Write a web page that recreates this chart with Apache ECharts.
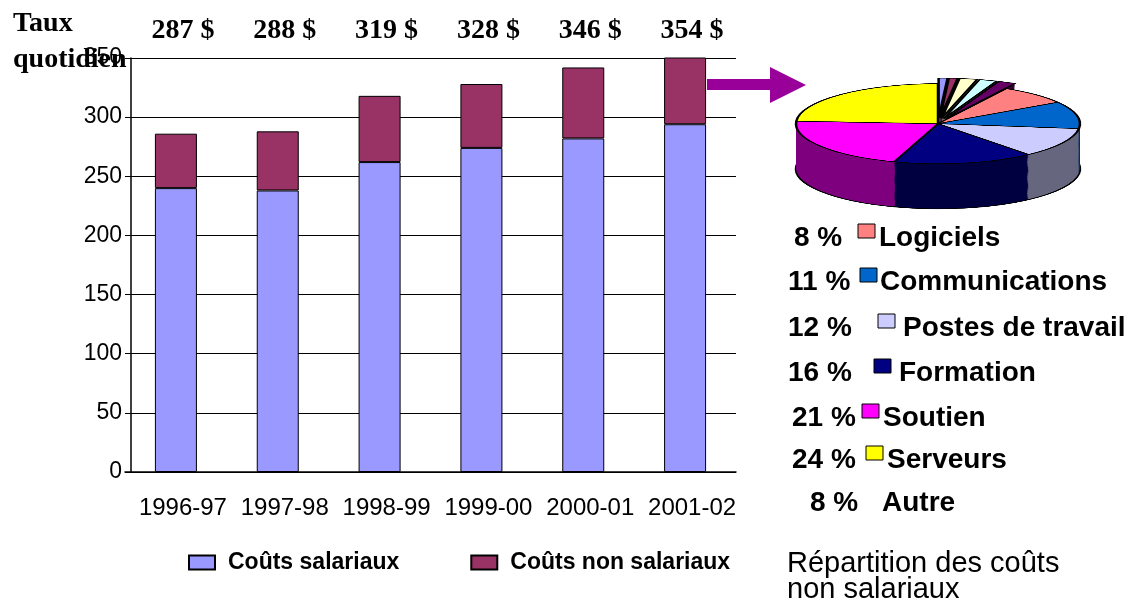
<!DOCTYPE html>
<html>
<head>
<meta charset="utf-8">
<script src="https://cdn.jsdelivr.net/npm/echarts@6/dist/echarts.min.js"></script>
<style>
  body { margin: 0; background: #fff; }
  #bars { position: absolute; left: 0; top: 0; width: 1144px; height: 612px; }
  /* pie drawn flat, then squashed to look tilted */
  #pie { position: absolute; left: 778px; top: 78px; width: 320px; height: 500px;
         transform: scaleY(0.282); transform-origin: 0 0; }
</style>
</head>
<body>
<div id="bars"></div>
<div id="pie"></div>
<script>
const years = ['1996-97', '1997-98', '1998-99', '1999-00', '2000-01', '2001-02'];
const salariaux = [240, 238, 262, 274, 282, 294];
const nonSalariaux = [46, 50, 56, 54, 60, 59];
const dailyRate = [287, 288, 319, 328, 346, 354];

const shareNames = ['Logiciels', 'Communications', 'Postes de travail', 'Formation', 'Soutien', 'Serveurs', 'Autre'];
const sharePct = [8, 11, 12, 16, 21, 24, 8];
const autreParts = [1, 1, 2, 2, 2];

const shareColors = ['#ff8080', '#0066cc', '#ccccff', '#000080', '#ff00ff', '#ffff00'];
const autreColors = ['#9999ff', '#993366', '#ffffcc', '#ccffff', '#660066'];

// legend rows of the pie: x of percent, swatch, name
const legendRows = [
  [794, 858, 879],
  [788, 860, 880],
  [788, 878, 903],
  [788, 874, 899],
  [792, 862, 883],
  [792, 866, 887],
  [810, null, 882]
];
const legendY = [238, 282, 328, 373, 418, 460, 503];

const sans = 'Liberation Sans, Arial, sans-serif';
const serif = 'Liberation Serif, Times New Roman, serif';

const graphics = [
  {
    type: 'polygon',
    shape: { points: [[707, 79], [770, 79], [770, 67], [806, 85], [770, 103], [770, 90], [707, 90]] },
    style: { fill: '#990099' }
  },
  { type: 'text', x: 787, y: 564, style: { text: 'Répartition des coûts', font: '29px ' + sans, fill: '#000', textVerticalAlign: 'middle' } },
  { type: 'text', x: 787, y: 590, style: { text: 'non salariaux', font: '29px ' + sans, fill: '#000', textVerticalAlign: 'middle' } }
];

shareNames.forEach((name, i) => {
  const [px, bx, tx] = legendRows[i];
  const y = legendY[i];
  graphics.push({ type: 'text', x: px, y: y, style: { text: sharePct[i] + ' %', font: 'bold 28px ' + sans, fill: '#000', textVerticalAlign: 'middle' } });
  if (bx !== null) {
    graphics.push({ type: 'rect', shape: { x: bx, y: y - 14, width: 17, height: 14 }, style: { fill: shareColors[i], stroke: '#000', lineWidth: 1 } });
  }
  graphics.push({ type: 'text', x: tx, y: y, style: { text: name, font: 'bold 28px ' + sans, fill: '#000', textVerticalAlign: 'middle' } });
});

const barChart = echarts.init(document.getElementById('bars'));
barChart.setOption({
  animation: false,
  title: {
    text: 'Taux\nquotidien',
    left: 8,
    top: 1,
    textStyle: { fontFamily: serif, fontWeight: 'bold', fontSize: 28, lineHeight: 36, color: '#000' }
  },
  grid: { left: 125, top: 58, width: 611, height: 414 },
  legend: {
    left: 183,
    top: 546,
    icon: 'rect',
    itemWidth: 26,
    itemHeight: 14,
    itemGap: 71,
    textStyle: { fontFamily: sans, fontWeight: 'bold', fontSize: 23, color: '#000', padding: [0, 0, 0, 8] },
    data: ['Coûts salariaux', 'Coûts non salariaux']
  },
  xAxis: [
    {
      type: 'category',
      data: years,
      axisLine: { lineStyle: { color: '#000', width: 1.5 } },
      axisTick: { length: 6, lineStyle: { color: '#000' } },
      axisLabel: { interval: 0, fontFamily: sans, fontSize: 24, color: '#000', margin: 24, padding: [0, 0, 0, 14] }
    },
    {
      type: 'category',
      position: 'top',
      data: dailyRate.map(v => v + ' $'),
      axisLine: { show: false },
      axisTick: { show: false },
      axisLabel: { interval: 0, fontFamily: serif, fontWeight: 'bold', fontSize: 28, color: '#000', margin: 13, padding: [0, 0, 0, 14] }
    }
  ],
  yAxis: {
    type: 'value',
    min: 0,
    max: 350,
    interval: 50,
    offset: -6,
    axisLine: { show: true, lineStyle: { color: '#000', width: 1.5 } },
    axisTick: { show: false },
    splitLine: { lineStyle: { color: '#000', width: 1.2 } },
    axisLabel: { fontFamily: sans, fontSize: 23, color: '#000', margin: 9 }
  },
  series: [
    {
      name: 'Coûts salariaux',
      type: 'bar',
      stack: 'cout',
      barWidth: 42,
      data: salariaux,
      itemStyle: { color: '#9999ff', borderColor: '#000', borderWidth: 1 }
    },
    {
      name: 'Coûts non salariaux',
      type: 'bar',
      stack: 'cout',
      barWidth: 42,
      data: nonSalariaux,
      itemStyle: { color: '#993366', borderColor: '#000', borderWidth: 1 }
    }
  ],
  graphic: graphics
});

// darker tint for the side of the pie
const shade = c => {
  const n = parseInt(c.slice(1), 16);
  const r = (n >> 16) >> 1, g = ((n >> 8) & 255) >> 1, b = (n & 255) >> 1;
  return 'rgb(' + r + ',' + g + ',' + b + ')';
};

const slices = autreParts.map((v, i) => ({ name: 'Autre ' + (i + 1), value: v, color: autreColors[i], selected: true }))
  .concat(shareColors.map((c, i) => ({ name: shareNames[i], value: sharePct[i], color: c, selected: false })));

const DEPTH = 160;
const LAYERS = 48;
const pieSeries = [];
for (let i = 0; i <= LAYERS; i++) {
  const d = DEPTH * (LAYERS - i) / LAYERS;
  const isTop = i === LAYERS;
  const isBottom = i === 0;
  pieSeries.push({
    type: 'pie',
    z: 2 + i,
    silent: true,
    radius: 142,
    center: [160, 162 + d],
    startAngle: 90,
    clockwise: true,
    selectedMode: 'multiple',
    selectedOffset: 20,
    label: { show: false },
    labelLine: { show: false },
    data: slices.map(s => ({
      name: s.name,
      value: s.value,
      selected: s.selected,
      itemStyle: {
        color: isTop ? s.color : shade(s.color),
        borderColor: '#000',
        borderWidth: isTop || isBottom ? 2.5 : 0
      }
    }))
  });
}

const pieChart = echarts.init(document.getElementById('pie'));
pieChart.setOption({ animation: false, series: pieSeries });
</script>
</body>
</html>
